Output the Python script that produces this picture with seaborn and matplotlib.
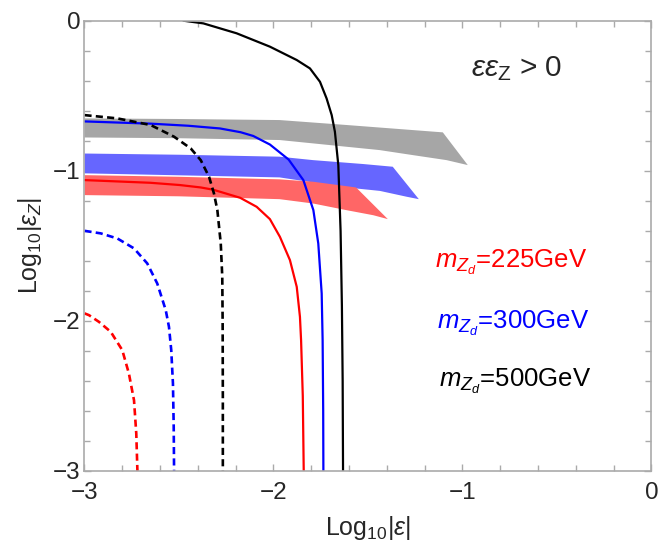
import numpy as np
import pandas as pd
import seaborn as sns
import matplotlib.pyplot as plt
from matplotlib.ticker import MultipleLocator

# curves (log10|eps|, log10|eps_Z|)
blk_x = [-2.477, -2.371, -2.195, -2.019, -1.877, -1.807, -1.754, -1.719, -1.692, -1.675, -1.657, -1.645, -1.638, -1.634, -1.632]
blk_y = [0.0, -0.018, -0.084, -0.173, -0.262, -0.318, -0.407, -0.518, -0.629, -0.74, -0.962, -1.4, -1.9, -2.4, -3.0]

blu_x = [-3.0, -2.65, -2.45, -2.283, -2.174, -2.107, -2.019, -1.92, -1.842, -1.789, -1.763, -1.745, -1.740, -1.737, -1.736]
blu_y = [-0.671, -0.686, -0.700, -0.718, -0.743, -0.768, -0.825, -0.925, -1.062, -1.262, -1.484, -1.817, -2.129, -2.6, -3.0]

red_x = [-3.0, -2.65, -2.495, -2.385, -2.319, -2.176, -2.089, -2.019, -1.966, -1.913, -1.877, -1.86, -1.854, -1.845, -1.84]
red_y = [-1.062, -1.08, -1.095, -1.111, -1.126, -1.180, -1.240, -1.322, -1.44, -1.595, -1.773, -1.973, -2.129, -2.5, -3.0]

blk_dash_x = [-3.0, -2.826, -2.65, -2.526, -2.438, -2.385, -2.341, -2.315, -2.297, -2.279, -2.271, -2.269, -2.268, -2.268]
blk_dash_y = [-0.629, -0.651, -0.695, -0.773, -0.851, -0.929, -1.04, -1.151, -1.262, -1.484, -1.707, -2.017, -2.5, -3.0]

blu_dash_x = [-3.0, -2.914, -2.826, -2.738, -2.668, -2.615, -2.570, -2.553, -2.541, -2.532, -2.528, -2.526]
blu_dash_y = [-1.40, -1.417, -1.451, -1.517, -1.617, -1.751, -1.929, -2.04, -2.195, -2.417, -2.7, -3.0]

red_dash_x = [-3.0, -2.976, -2.923, -2.861, -2.80, -2.765, -2.738, -2.726, -2.72]
red_dash_y = [-1.95, -1.962, -2.007, -2.073, -2.195, -2.351, -2.529, -2.751, -3.0]

# shaded bands: outline going along the top edge to the tip, then back along the bottom
gray_x = [-3.0, -2.5, -1.968, -1.613, -1.26, -1.104, -0.972, -1.084, -1.26, -1.439, -1.968, -2.5, -3.0]
gray_y = [-0.651, -0.655, -0.662, -0.695, -0.729, -0.744, -0.962, -0.929, -0.896, -0.862, -0.795, -0.783, -0.778]

bband_x = [-3.0, -2.5, -1.968, -1.79, -1.525, -1.369, -1.231, -1.295, -1.437, -1.615, -1.968, -2.5, -3.0]
bband_y = [-0.885, -0.893, -0.906, -0.929, -0.955, -0.973, -1.189, -1.173, -1.134, -1.111, -1.044, -1.03, -1.017]

rband_x = [-3.0, -2.5, -1.968, -1.79, -1.563, -1.395, -1.472, -1.615, -1.79, -1.968, -2.5, -3.0]
rband_y = [-1.029, -1.04, -1.057, -1.073, -1.111, -1.322, -1.296, -1.262, -1.218, -1.189, -1.17, -1.162]

masses = ['225', '300', '500']
mass_colors = ['#ff0000', '#0000ff', '#000000']

sns.set_theme(style='ticks')
plt.rcParams['font.family'] = ['Liberation Sans', 'DejaVu Sans']
plt.rcParams['mathtext.fontset'] = 'custom'
plt.rcParams['mathtext.rm'] = 'Liberation Sans'
plt.rcParams['mathtext.it'] = 'Liberation Sans:italic'

fig = plt.figure(figsize=(6.69, 5.46), dpi=100)
ax = fig.add_axes([0.1263, 0.1374, 0.8475, 0.8247])

ax.fill(gray_x, gray_y, color='#a6a6a6', lw=0)
ax.fill(bband_x, bband_y, color='#6666ff', lw=0)
ax.fill(rband_x, rband_y, color='#ff6666', lw=0)

dash = (0, (2.7, 1.6))
curves = [
    (blk_x, blk_y, '#000000', '-'),
    (blu_x, blu_y, '#0000ff', '-'),
    (red_x, red_y, '#ff0000', '-'),
    (blk_dash_x, blk_dash_y, '#000000', dash),
    (blu_dash_x, blu_dash_y, '#0000ff', dash),
    (red_dash_x, red_dash_y, '#ff0000', dash),
]
for xs, ys, c, ls in curves:
    sns.lineplot(x=xs, y=ys, ax=ax, sort=False, estimator=None, color=c,
                 linestyle=ls, lw=1.6 if ls == '-' else 1.9,
                 solid_joinstyle='round', dash_joinstyle='round')

ax.set_xlim(-3, 0)
ax.set_ylim(-3, 0)
ax.xaxis.set_major_locator(MultipleLocator(1))
ax.yaxis.set_major_locator(MultipleLocator(1))
ax.xaxis.set_minor_locator(MultipleLocator(0.2))
ax.yaxis.set_minor_locator(MultipleLocator(0.2))
ax.tick_params(which='both', direction='in', top=True, right=True, color='#aaaaaa', width=1)
ax.tick_params(which='major', length=5, labelsize=17.5)
ax.tick_params(axis='x', which='major', pad=8)
ax.tick_params(axis='y', which='major', pad=3)
ax.tick_params(which='minor', length=4)
for s in ax.spines.values():
    s.set_color('#aaaaaa')
    s.set_linewidth(1.2)

ax.set_xlabel(r'Log$_{10}|\varepsilon|$', fontsize=18, labelpad=7)
ax.set_ylabel(r'Log$_{10}|\varepsilon_Z|$', fontsize=18, labelpad=6)

ax.text(-0.712, -0.369, r'$\varepsilon\varepsilon_{\mathrm{Z}}$ > 0', fontsize=21.5,
        ha='center', va='baseline')
label_pos = [(-0.743, -1.644), (-0.735, -2.051), (-0.722, -2.44)]
for m, c, (tx, ty) in zip(masses, mass_colors, label_pos):
    ax.text(tx, ty, r'$m_{Z_d}$=' + m + 'GeV', color=c, fontsize=18.5,
            ha='center', va='baseline')

fig.savefig('out.png', dpi=100)
